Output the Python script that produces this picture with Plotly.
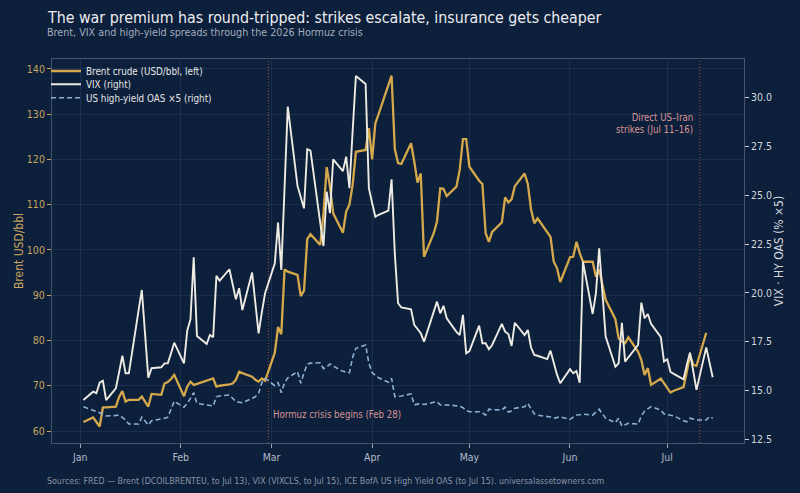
import pandas as pd
import plotly.graph_objects as go

# ---- data (business days, 2026) ----
dates = pd.bdate_range("2026-01-02", "2026-07-15")

brent = [
    # Jan
    62.0, 63.0, 62.0, 61.0, 65.2, 65.2, 65.4, 67.5, 68.8, 66.5, 66.9, 66.9, 67.6, 66.4, 65.4, 68.2, 68.0, 70.5, 70.8, 71.5, 72.4,
    # Feb
    67.7, 69.8, 70.9, 70.2, 70.4, 71.1, 71.4, 71.6, 69.8, 70.0, 70.3, 70.5, 71.3, 73.1, 72.8, 72.0, 71.3, 70.9, 71.6, 71.1,
    # Mar
    77.3, 83.0, 81.4, 95.7, 95.2, 94.5, 89.8, 91.0, 102.4, 103.5, 101.1, 108.0, 118.3, 114.0, 108.1, 103.8, 108.5, 110.0, 114.4, 121.7, 122.1, 126.9,
    # Apr
    120.0, 128.0, 130.0, 136.4, 138.5, 122.3, 119.2, 119.0, 123.6, 119.5, 114.9, 116.9, 98.5, 103.7, 106.3, 113.6, 113.5, 111.9, 114.0, 117.7, 124.5, 124.5,
    # May
    118.4, 115.3, 114.6, 103.7, 101.8, 104.0, 106.1, 111.6, 110.5, 111.2, 114.1, 116.9, 114.6, 109.0, 105.9, 107.0, 103.8, 102.9, 97.4, 96.0, 92.9,
    # Jun
    98.4, 98.5, 101.8, 99.3, 97.4, 97.4, 94.1, 95.7, 92.0, 89.0, 84.7, 80.5, 79.8, 79.4, 80.7, 77.5, 75.7, 72.4, 73.9, 70.2, 71.6, 70.5,
    # Jul (to Jul 13)
    69.5, 68.5, 68.9, 69.7, 73.0, 76.8, 74.6, 74.4, 81.7,
]

vix = [
    # Jan
    14.51, 14.94, 14.86, 15.40, 15.50, 14.51, 15.11, 16.0, 16.78, 15.88, 15.88, 19.1, 20.15, 17.9, 15.66, 16.14, 16.19, 16.39, 16.39, 16.9, 17.45,
    # Feb
    16.39, 18.06, 18.65, 21.82, 17.79, 17.38, 17.84, 17.73, 20.87, 20.63, 21.21, 20.4, 19.67, 20.24, 19.12, 21.04, 19.5, 17.93, 19.0, 19.98,
    # Mar
    21.52, 23.60, 21.17, 25.8, 29.54, 25.48, 24.9, 24.33, 27.36, 27.29, 23.6, 22.40, 25.18, 24.08, 26.84, 26.24, 26.98, 25.36, 28.3, 31.11, 30.70, 25.36,
    # Apr
    24.6, 23.90, 24.0, 24.21, 25.82, 22.0, 19.47, 19.26, 19.16, 18.36, 18.15, 17.93, 17.50, 19.0, 19.55, 18.95, 19.34, 18.70, 18.0, 17.84, 18.87, 16.91,
    # May
    17.02, 18.32, 17.42, 17.42, 17.11, 17.33, 18.41, 18.01, 17.89, 17.28, 18.47, 17.84, 18.10, 17.2, 16.82, 16.78, 16.61, 17.04, 16.36, 15.81, 15.37,
    # Jun
    16.09, 15.88, 16.0, 15.40, 21.60, 18.92, 19.98, 22.28, 20.0, 17.76, 16.22, 16.39, 18.47, 16.48, 16.7, 17.33, 19.50, 18.70, 18.92, 18.41, 17.73, 16.48,
    # Jul
    16.60, 15.95, 15.85, 15.57, 16.3, 16.94, 16.0, 15.03, 17.21, 16.5, 15.68,
]

hy_x5 = [
    # Jan
    14.17, 14.0, 13.95, 13.86, 13.78, 13.69, 13.72, 13.74, 13.62, 13.49, 13.28, 13.28, 13.63, 13.4, 13.23, 13.45, 13.52, 13.58, 13.63, 14.0, 14.45,
    # Feb
    14.14, 14.34, 14.6, 14.89, 14.34, 14.26, 14.24, 14.21, 14.68, 14.72, 14.77, 14.6, 14.43, 14.40, 14.37, 14.6, 14.68, 14.85, 15.4, 15.62,
    # Mar
    15.25, 15.40, 14.89, 15.4, 15.65, 15.96, 15.37, 15.9, 16.35, 16.4, 16.42, 16.12, 16.2, 16.36, 16.25, 15.98, 15.95, 15.91, 16.7, 17.16, 17.33, 16.4,
    # Apr
    15.91, 15.80, 15.65, 15.42, 15.62, 14.68, 14.70, 14.72, 14.82, 14.26, 14.30, 14.34, 14.28, 14.40, 14.43, 14.26, 14.26, 14.26, 14.22, 14.19, 14.12, 13.98,
    # May
    13.91, 13.91, 13.85, 13.74, 14.04, 14.02, 14.0, 14.14, 13.9, 13.95, 14.09, 14.17, 14.34, 14.05, 13.8, 13.74, 13.69, 13.64, 13.58, 13.61, 13.65,
    # Jun
    13.52, 13.62, 13.74, 13.76, 13.79, 13.74, 13.9, 14.04, 13.8, 13.58, 13.35, 13.58, 13.18, 13.25, 13.32, 13.28, 13.7, 13.95, 14.06, 14.17, 14.0, 13.80,
    # Jul
    13.77, 13.74, 13.70, 13.45, 13.40, 13.58, 13.53, 13.49, 13.49, 13.66, 13.58,
]

month_ticks = ["2026-01-01", "2026-02-01", "2026-03-01", "2026-04-01", "2026-05-01", "2026-06-01", "2026-07-01"]
month_labels = ["Jan", "Feb", "Mar", "Apr", "May", "Jun", "Jul"]
left_ticks = [60, 70, 80, 90, 100, 110, 120, 130, 140]
right_ticks = [12.5, 15.0, 17.5, 20.0, 22.5, 25.0, 27.5, 30.0]
events = ["2026-02-28", "2026-07-11"]

# ---- styling ----
FONT = "DejaVu Sans Condensed, DejaVu Sans, sans-serif"
BG = "#0c1f3b"
GOLD = "#d4a84b"
WHITE = "#eeebe3"
BLUE = "#8db1d6"
RED = "#c4504e"
PINK = "#d99595"
GRID = "#1a2f4f"
FRAME = "#44546e"

fig = go.Figure()
fig.add_trace(go.Scatter(x=dates[:len(brent)], y=brent, name="Brent crude (USD/bbl, left)",
                         mode="lines", line=dict(color=GOLD, width=2.3), yaxis="y", legend="legend"))
fig.add_trace(go.Scatter(x=dates[:len(vix)], y=vix, name="VIX (right)",
                         mode="lines", line=dict(color=WHITE, width=1.9), yaxis="y2", legend="legend2"))
fig.add_trace(go.Scatter(x=dates[:len(hy_x5)], y=hy_x5, name="US high-yield OAS ×5 (right)",
                         mode="lines", line=dict(color=BLUE, width=1.6, dash="5px,3px"), yaxis="y2",
                         legend="legend3"))

for d in events:
    fig.add_shape(type="line", xref="x", yref="paper", x0=d, x1=d, y0=0, y1=1,
                  line=dict(color=RED, width=1, dash="1px,2px"), opacity=0.9, layer="below")

fig.add_annotation(x="2026-02-28", y=63.6, xref="x", yref="y", xanchor="left", yanchor="middle",
                   xshift=3, text="Hormuz crisis begins (Feb 28)", showarrow=False,
                   font=dict(family=FONT, size=9.6, color=PINK))
fig.add_annotation(x="2026-07-11", y=128.0, xref="x", yref="y", xanchor="right", yanchor="middle",
                   xshift=-5, align="right", text="Direct US–Iran<br>strikes (Jul 11–16)", showarrow=False,
                   font=dict(family=FONT, size=9.6, color=PINK))

fig.add_annotation(x=-0.0101, y=1.107, xref="paper", yref="paper", xanchor="left", yanchor="middle",
                   text="The war premium has round-tripped: strikes escalate, insurance gets cheaper",
                   showarrow=False, font=dict(family=FONT, size=15.8, color="#ecedf0"))
fig.add_annotation(x=-0.0101, y=1.068, xref="paper", yref="paper", xanchor="left", yanchor="middle",
                   text="Brent, VIX and high-yield spreads through the 2026 Hormuz crisis",
                   showarrow=False, font=dict(family=FONT, size=10.7, color="#a3acbb"))
fig.add_annotation(x=-0.0101, y=-0.099, xref="paper", yref="paper", xanchor="left", yanchor="middle",
                   text="Sources: FRED — Brent (DCOILBRENTEU, to Jul 13), VIX (VIXCLS, to Jul 15), "
                        "ICE BofA US High Yield OAS (to Jul 15). universalassetowners.com",
                   showarrow=False, font=dict(family=FONT, size=8.8, color="#8a94a6"))

leg_common = dict(xanchor="left", yanchor="middle", bgcolor="rgba(0,0,0,0)", borderwidth=0,
                  font=dict(family=FONT, size=9.8, color="#e6e6e6"), itemwidth=30)

fig.update_layout(
    width=800, height=493,
    margin=dict(l=52, r=56, t=59, b=50),
    paper_bgcolor=BG, plot_bgcolor=BG,
    font=dict(family=FONT, size=11, color="#d0d4dc"),
    showlegend=True,
    legend=dict(x=-0.0087, y=0.9688, **leg_common),
    legend2=dict(x=-0.0087, y=0.9341, **leg_common),
    legend3=dict(x=-0.0087, y=0.8992, **leg_common),
    xaxis=dict(
        type="date",
        range=["2025-12-23 07:26", "2026-07-24 15:36"],
        tickvals=month_ticks, ticktext=month_labels,
        showgrid=True, gridcolor=GRID, gridwidth=1,
        ticks="outside", ticklen=4, tickcolor="#9aa3b3",
        tickfont=dict(family=FONT, size=10.5, color="#b3bbc9"),
        showline=True, linecolor=FRAME, linewidth=1, mirror=True,
        zeroline=False,
    ),
    yaxis=dict(
        range=[57.35, 142.2],
        tickvals=left_ticks,
        showgrid=True, gridcolor=GRID, gridwidth=1,
        ticks="outside", ticklen=4, tickcolor="#c8a460",
        tickfont=dict(family=FONT, size=10.5, color="#c9a65f"),
        title=dict(text="Brent USD/bbl", font=dict(family=FONT, size=12, color="#c9a65f"), standoff=0),
        showline=True, linecolor=FRAME, linewidth=1, mirror=True,
        zeroline=False,
    ),
    yaxis2=dict(
        range=[12.31, 31.98],
        overlaying="y", side="right",
        tickvals=right_ticks, tickformat=".1f",
        showgrid=False,
        ticks="outside", ticklen=4, tickcolor="#c9ced8",
        tickfont=dict(family=FONT, size=10.5, color="#d3d7df"),
        title=dict(text="VIX · HY OAS (% ×5)", font=dict(family=FONT, size=12, color="#d3d7df"), standoff=0),
        showline=False, zeroline=False,
    ),
)

fig.write_html("out.html")
